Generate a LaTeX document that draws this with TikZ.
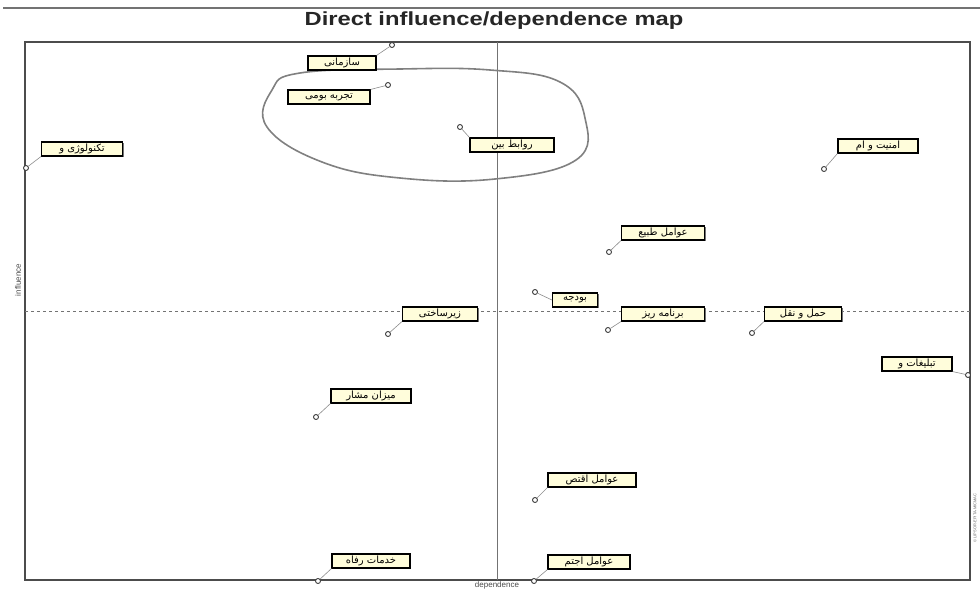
\documentclass[tikz,border=0pt]{standalone}
\usepackage{fontspec}
\setmainfont{Liberation Sans}
\newfontfamily\arabicfont[Script=Arabic]{DejaVu Sans}
\TeXXeTstate=1
\usetikzlibrary{shadows}
\begin{document}
\begin{tikzpicture}[x=1pt,y=-1pt,
  lbl/.style={draw=black, line width=1.1pt, fill=yellow!14, inner xsep=2pt, inner ysep=1pt,
    minimum height=14pt, minimum width=#1,
    font=\arabicfont\fontsize{10}{11}\selectfont,
    drop shadow={shadow xshift=1.3pt, shadow yshift=-1.3pt, fill=black!55, opacity=1}},
  lbl/.default=80pt,
  pt/.style={circle, draw=black!75, line width=0.9pt, inner sep=0pt, minimum size=5pt, fill=white},
  lead/.style={draw=black!45, line width=0.6pt},
  axis/.style={draw=black!55, line width=0.6pt},
]
\useasboundingbox (0,0) rectangle (980,589);
% top rule and title
\draw[black!55, line width=1.5pt] (3,8) -- (980,8);
\node[font=\bfseries\fontsize{19}{22}\selectfont, text=black!85, inner sep=0pt, xscale=1.25] (title) at (494,21) {Direct influence/dependence map};
% frame and axes
\draw[black!70, line width=1.2pt] (25,42) rectangle (970,580);
\draw[axis] (497,42) -- (497,580);
\draw[axis, dashed] (25,311) -- (970,311);
\node[rotate=90, font=\fontsize{8}{9}\selectfont, text=black!70] (infl) at (18,280) {influence};
\node[font=\fontsize{8}{9}\selectfont, text=black!70, inner sep=0pt, anchor=north] (dep) at (497,581.5) {dependence};
\node[rotate=90, font=\fontsize{4}{5}\selectfont, text=black!60] (copy) at (975,518) {\textcopyright\ LIPSOR-EPITA-MICMAC};
% circled cluster
\draw[black!50, line width=1.6pt] plot[smooth cycle, tension=0.7] coordinates
  {(300,73) (400,69) (490,70) (560,82) (585,118) (576,160) (495,179) (400,178) (322,162) (267,127) (272,90)};
% labels
\node[lbl=68pt] (l1) at (342,63) {\beginR سازمانی\endR};
\node[lbl=82pt] (l2) at (329,97) {\beginR تجربه بومی\endR};
\node[lbl=84pt] (l3) at (512,145) {\beginR روابط بین\endR};
\node[lbl=81pt] (l4) at (82,149) {\beginR تکنولوژی و\endR};
\node[lbl=80pt] (l5) at (878,146) {\beginR امنیت و ام\endR};
\node[lbl=83pt] (l6) at (663,233) {\beginR عوامل طبیع\endR};
\node[lbl=45pt] (l7) at (575,300) {\beginR بودجه\endR};
\node[lbl=83pt] (l8) at (663,314) {\beginR برنامه ریز\endR};
\node[lbl=75pt] (l9) at (440,314) {\beginR زیرساختی\endR};
\node[lbl=77pt] (l10) at (803,314) {\beginR حمل و نقل\endR};
\node[lbl=70pt] (l11) at (917,364) {\beginR تبلیغات و\endR};
\node[lbl=80pt] (l12) at (371,396) {\beginR میزان مشار\endR};
\node[lbl=88pt] (l13) at (592,480) {\beginR عوامل اقتص\endR};
\node[lbl=78pt] (l14) at (371,561) {\beginR خدمات رفاه\endR};
\node[lbl=82pt] (l15) at (589,562) {\beginR عوامل اجتم\endR};
% points
\node[pt] (p1) at (392,45) {};
\node[pt] (p2) at (388,85) {};
\node[pt] (p3) at (460,127) {};
\node[pt] (p4) at (26,168) {};
\node[pt] (p5) at (824,169) {};
\node[pt] (p6) at (609,252) {};
\node[pt] (p7) at (535,292) {};
\node[pt] (p8) at (608,330) {};
\node[pt] (p9) at (388,334) {};
\node[pt] (p10) at (752,333) {};
\node[pt] (p11) at (968,375) {};
\node[pt] (p12) at (316,417) {};
\node[pt] (p13) at (535,500) {};
\node[pt] (p14) at (318,581) {};
\node[pt] (p15) at (534,581) {};
% leaders
\draw[lead] (p1) -- (l1.north east);
\draw[lead] (p2) -- (l2.north east);
\draw[lead] (p3) -- (l3.north west);
\draw[lead] (p4) -- (l4.south west);
\draw[lead] (p5) -- (l5.south west);
\draw[lead] (p6) -- (l6.south west);
\draw[lead] (p7) -- (l7.west);
\draw[lead] (p8) -- (l8.south west);
\draw[lead] (p9) -- (l9.south west);
\draw[lead] (p10) -- (l10.south west);
\draw[lead] (p11) -- (l11.south east);
\draw[lead] (p12) -- (l12.south west);
\draw[lead] (p13) -- (l13.south west);
\draw[lead] (p14) -- (l14.south west);
\draw[lead] (p15) -- (l15.south west);
\end{tikzpicture}
\end{document}
